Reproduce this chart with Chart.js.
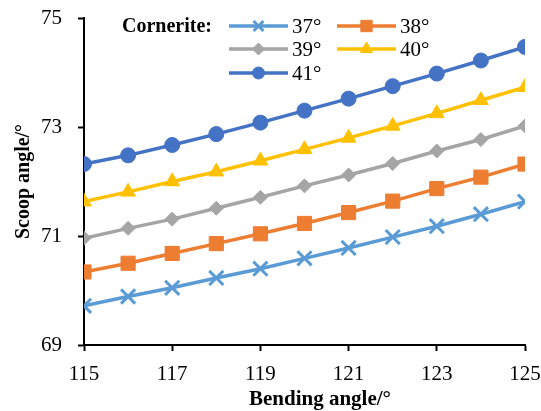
<!DOCTYPE html>
<html>
<head>
<meta charset="utf-8">
<script src="https://cdn.jsdelivr.net/npm/chart.js@4/dist/chart.umd.min.js"></script>
<style>
  html, body { margin: 0; padding: 0; background: #fff; }
  #wrap { width: 541px; height: 411px; }
</style>
</head>
<body>
<div id="wrap"><canvas id="chart"></canvas></div>
<script>
const bendingAngles = [115, 116, 117, 118, 119, 120, 121, 122, 123, 124, 125];
const seriesNames = ['37°', '38°', '39°', '40°', '41°'];
const scoop37 = [69.72, 69.89, 70.05, 70.23, 70.40, 70.59, 70.78, 70.98, 71.18, 71.40, 71.63];
const scoop38 = [70.34, 70.50, 70.68, 70.86, 71.04, 71.23, 71.43, 71.64, 71.87, 72.08, 72.32];
const scoop39 = [70.96, 71.14, 71.31, 71.51, 71.71, 71.92, 72.12, 72.33, 72.56, 72.77, 73.02];
const scoop40 = [71.63, 71.81, 72.00, 72.18, 72.38, 72.59, 72.80, 73.02, 73.25, 73.49, 73.73];
const scoop41 = [72.32, 72.48, 72.67, 72.87, 73.08, 73.30, 73.52, 73.75, 73.98, 74.22, 74.47];
const xTicks = [115, 117, 119, 121, 123, 125];
const yTicks = [69, 71, 73, 75];
const xTitle = 'Bending angle/°';
const yTitle = 'Scoop angle/°';

const serif = "'Liberation Serif', 'Times New Roman', serif";
const styles = [
    { color: '#5B9BD5', point: 'crossRot', r: 10, lr: 7 },
    { color: '#ED7D31', point: 'rect', r: 10, lr: 8 },
    { color: '#A5A5A5', point: 'rectRot', r: 7, lr: 6 },
    { color: '#FFC000', point: 'triangle', r: 8.5, lr: 7 },
    { color: '#4472C4', point: 'circle', r: 7.5, lr: 6 }
];
const allSeries = [scoop37, scoop38, scoop39, scoop40, scoop41];

const datasets = allSeries.map((vals, i) => ({
    label: seriesNames[i],
    data: vals.map((v, j) => ({ x: bendingAngles[j], y: v })),
    borderColor: styles[i].color,
    backgroundColor: styles[i].color,
    borderWidth: 3.5,
    pointStyle: styles[i].point,
    pointRadius: styles[i].r,
    pointBorderWidth: styles[i].point === 'crossRot' ? 3 : 1,
    pointBorderColor: styles[i].color,
    tension: 0
}));

// legend inside the plot + x title (sits a bit right of centre in the original)
const insideLegend = {
    id: 'insideLegend',
    afterDraw(chart) {
        const ctx = chart.ctx;
        ctx.save();
        ctx.font = 'bold 20px ' + serif;
        ctx.fillStyle = '#000';
        ctx.textBaseline = 'middle';
        ctx.fillText('Cornerite:', 122, 27);

        ctx.font = 'bold 21px ' + serif;
        ctx.textAlign = 'center';
        ctx.fillText(xTitle, 320, 400);
        ctx.textAlign = 'left';

        const slots = [[229, 26], [337, 26], [229, 49], [337, 49], [229, 73]];
        chart.data.datasets.forEach((ds, i) => {
            const [x, y] = slots[i];
            ctx.strokeStyle = ds.borderColor;
            ctx.fillStyle = ds.borderColor;
            ctx.lineWidth = 3.5;
            ctx.beginPath();
            ctx.moveTo(x, y);
            ctx.lineTo(x + 59, y);
            ctx.stroke();
            ctx.lineWidth = ds.pointBorderWidth;
            Chart.helpers.drawPoint(ctx, {
                pointStyle: ds.pointStyle,
                radius: styles[i].lr,
                borderWidth: ds.pointBorderWidth,
                rotation: 0
            }, x + 29.5, y);
            ctx.fillStyle = '#000';
            ctx.font = '21px ' + serif;
            ctx.fillText(ds.label, x + 63, y + 1);
        });
        ctx.restore();
    }
};

new Chart(document.getElementById('chart'), {
    type: 'line',
    data: { datasets },
    options: {
        responsive: true,
        maintainAspectRatio: false,
        animation: false,
        layout: { padding: { left: 0, right: 16, top: 18, bottom: 0 } },
        plugins: { legend: { display: false }, tooltip: { enabled: false } },
        scales: {
            x: {
                type: 'linear',
                min: 115,
                max: 125,
                afterFit: s => { s.height = 66; s.paddingLeft = 0; s.paddingRight = 0; },
                afterBuildTicks: s => { s.ticks = xTicks.map(v => ({ value: v })); },
                ticks: { color: '#000', padding: 11, font: { family: serif, size: 21 } },
                grid: { display: true, drawOnChartArea: false, color: '#000', tickLength: 6, tickWidth: 2 },
                border: { color: '#000', width: 2 },
                title: { display: false }
            },
            y: {
                min: 69,
                max: 75,
                afterFit: s => { s.width = 84; s.paddingTop = 0; s.paddingBottom = 0; },
                afterBuildTicks: s => { s.ticks = yTicks.map(v => ({ value: v })); },
                ticks: { color: '#000', padding: 16, font: { family: serif, size: 21 } },
                grid: { display: true, drawOnChartArea: false, color: '#000', tickLength: 6, tickWidth: 2 },
                border: { color: '#000', width: 2 },
                title: { display: true, text: yTitle, color: '#000', padding: { top: 12 },
                    font: { family: serif, size: 20, weight: 'bold' } }
            }
        }
    },
    plugins: [insideLegend]
});
</script>
</body>
</html>
